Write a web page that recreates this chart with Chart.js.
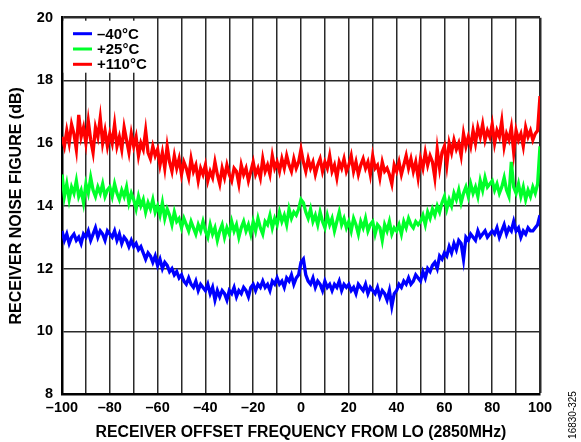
<!DOCTYPE html>
<html>
<head>
<meta charset="utf-8">
<script src="https://cdn.jsdelivr.net/npm/chart.js@4.4.0/dist/chart.umd.min.js"></script>
<style>
  html, body { margin: 0; padding: 0; background: #fff; }
</style>
</head>
<body>
<canvas id="chart" width="581" height="442"></canvas>
<script>
// offset frequency from LO, MHz (1 MHz steps from -100 to +100)
const FREQ_START = -100;
const FREQ_STEP = 1;

const seriesLabels = ['\u201340\u00b0C', '+25\u00b0C', '+110\u00b0C'];
const seriesColors = ['#0000ff', '#00ff2a', '#ff0000'];

// receiver noise figure, dB
const nfCold = [
  13.2, 12.9, 13.1, 12.8, 13.0, 13.1, 12.9, 13.0, 12.8, 13.1, // -100
  13.0, 13.2, 12.9, 13.1, 13.3, 13.0, 13.2, 13.1, 12.9, 13.2,
  13.1, 13.0, 13.2, 12.9, 13.1, 12.8, 13.0, 12.9, 12.7, 12.9, // -80
  12.7, 12.8, 12.6, 12.7, 12.5, 12.3, 12.5, 12.4, 12.2, 12.4,
  12.1, 12.3, 12.0, 12.2, 12.1, 11.9, 12.0, 11.8, 11.9, 11.7, // -60
  11.8, 11.6, 11.5, 11.7, 11.5, 11.4, 11.6, 11.3, 11.5, 11.4,
  11.3, 11.5, 11.2, 11.4, 11.0, 11.3, 11.1, 11.3, 11.2, 11.0, // -40
  11.3, 11.2, 11.4, 11.1, 11.3, 11.2, 11.4, 11.3, 11.1, 11.4,
  11.5, 11.3, 11.5, 11.4, 11.6, 11.4, 11.5, 11.3, 11.6, 11.5, // -20
  11.7, 11.5, 11.6, 11.4, 11.7, 11.6, 11.8, 11.5, 11.7, 11.8,
  12.2, 12.3, 11.8, 11.6, 11.5, 11.7, 11.4, 11.6, 11.5, 11.3, // 0
  11.6, 11.4, 11.5, 11.3, 11.5, 11.4, 11.6, 11.3, 11.5, 11.4,
  11.5, 11.3, 11.4, 11.2, 11.5, 11.4, 11.3, 11.5, 11.2, 11.4, // 20
  11.3, 11.2, 11.4, 11.1, 11.3, 11.2, 11.0, 11.3, 10.8, 11.2,
  11.3, 11.5, 11.4, 11.6, 11.5, 11.7, 11.5, 11.6, 11.8, 11.7, // 40
  11.6, 11.9, 11.7, 12.0, 11.9, 12.1, 12.2, 12.0, 12.4, 12.3,
  12.5, 12.4, 12.7, 12.5, 12.8, 12.6, 12.9, 12.8, 12.3, 13.0, // 60
  12.9, 13.1, 13.0, 12.9, 13.2, 13.0, 13.1, 13.2, 13.0, 13.1,
  13.2, 13.1, 13.3, 13.0, 13.2, 13.4, 13.1, 13.3, 13.2, 13.5, // 80
  13.2, 13.3, 13.0, 13.2, 13.1, 13.3, 13.2, 13.2, 13.3, 13.4, 13.7
];

const nfRoom = [
  15.0, 14.3, 14.7, 14.2, 14.6, 14.4, 14.8, 14.3, 14.5, 14.1, // -100
  14.7, 14.4, 14.9, 14.5, 14.3, 14.6, 14.4, 14.7, 14.3, 14.5,
  14.6, 14.3, 14.7, 14.4, 14.2, 14.5, 14.3, 14.6, 14.1, 14.4, // -80
  14.2, 13.9, 14.3, 14.0, 14.2, 13.8, 14.1, 13.9, 14.2, 13.8,
  14.0, 13.7, 14.1, 13.6, 13.9, 13.7, 13.4, 13.8, 13.5, 13.6, // -60
  13.3, 13.6, 13.4, 13.2, 13.5, 13.3, 13.1, 13.4, 13.2, 13.5,
  13.2, 13.0, 13.4, 13.1, 13.3, 12.9, 13.2, 13.4, 13.0, 13.3, // -40
  13.1, 13.5, 13.2, 13.4, 13.0, 13.3, 13.5, 13.2, 13.4, 13.1,
  13.5, 13.2, 13.6, 13.3, 13.1, 13.5, 13.4, 13.7, 13.3, 13.6, // -20
  13.4, 13.8, 13.5, 13.7, 13.4, 13.9, 13.6, 13.8, 13.7, 13.9,
  14.2, 14.1, 13.8, 13.6, 13.9, 13.5, 13.7, 13.4, 13.8, 13.5, // 0
  13.3, 13.7, 13.4, 13.6, 13.2, 13.5, 13.8, 13.4, 13.6, 13.3,
  13.5, 13.2, 13.6, 13.4, 13.1, 13.5, 13.3, 13.6, 13.2, 13.4, // 20
  13.5, 13.1, 13.4, 13.3, 12.9, 13.4, 13.2, 13.5, 13.1, 13.3,
  13.2, 13.4, 13.1, 13.5, 13.3, 13.6, 13.4, 13.3, 13.5, 13.4, // 40
  13.5, 13.7, 13.4, 13.8, 13.6, 13.9, 13.7, 14.0, 13.8, 14.1,
  14.3, 13.9, 14.2, 14.0, 14.4, 14.2, 14.5, 14.1, 14.4, 14.6, // 60
  14.3, 14.7, 14.4, 14.6, 14.3, 14.8, 14.5, 14.9, 14.6, 14.7,
  14.8, 14.5, 14.7, 14.4, 14.6, 14.9, 14.5, 14.3, 15.4, 14.6, // 80
  14.4, 14.7, 14.3, 14.6, 14.2, 14.5, 14.3, 14.6, 14.4, 14.7, 15.9
];

const nfHot = [
  16.2, 15.9, 16.4, 16.0, 16.6, 16.3, 15.8, 16.9, 16.2, 16.5, // -100
  16.0, 16.7, 16.1, 15.7, 16.5, 16.2, 16.8, 16.0, 16.4, 15.9,
  16.3, 16.0, 16.6, 15.9, 16.2, 15.8, 16.5, 16.1, 15.7, 16.3, // -80
  15.9, 16.2, 15.6, 16.0, 15.8, 16.4, 15.7, 15.5, 15.9, 15.6,
  15.8, 15.3, 15.7, 15.2, 15.9, 15.4, 15.1, 15.6, 15.2, 15.5, // -60
  15.0, 15.4, 15.2, 14.9, 15.5, 15.1, 15.3, 14.8, 15.2, 15.0,
  15.3, 14.8, 15.1, 14.9, 15.4, 15.0, 14.7, 15.2, 14.9, 15.3, // -40
  15.0, 14.8, 15.2, 15.1, 14.7, 15.3, 15.0, 15.2, 14.8, 15.1,
  15.4, 15.0, 15.2, 14.9, 15.5, 15.1, 15.3, 15.0, 15.6, 15.2, // -20
  15.4, 15.1, 15.5, 15.2, 15.6, 15.3, 15.1, 15.5, 15.2, 15.4,
  15.8, 15.4, 15.1, 15.5, 15.2, 15.4, 15.0, 15.3, 15.5, 15.1, // 0
  15.4, 15.2, 15.6, 15.1, 15.3, 14.9, 15.4, 15.2, 15.5, 15.1,
  15.3, 15.6, 15.1, 15.4, 15.0, 15.3, 15.5, 15.2, 15.4, 15.0, // 20
  15.6, 15.2, 15.3, 14.9, 15.4, 15.1, 15.2, 15.0, 14.7, 15.3,
  15.1, 15.4, 15.0, 15.3, 15.6, 15.2, 15.5, 15.1, 15.4, 14.9, // 40
  15.5, 15.2, 15.7, 15.3, 15.6, 15.4, 14.9, 15.8, 15.2, 15.7,
  15.9, 15.3, 16.0, 15.7, 16.1, 15.8, 16.0, 15.6, 16.3, 15.9, // 60
  16.2, 15.9, 16.4, 16.0, 16.5, 16.2, 16.6, 16.1, 16.4, 16.2,
  16.6, 16.0, 16.4, 16.2, 16.7, 15.9, 16.3, 16.1, 16.5, 15.7, // 80
  16.4, 16.1, 16.3, 15.9, 16.5, 16.2, 16.4, 16.1, 16.3, 16.4, 17.5
];

const xTickLabelStep = 20;
const figureId = '16830-325';

const toPoints = (vals) => vals.map((v, i) => ({ x: FREQ_START + i * FREQ_STEP, y: v }));

const FONT = "'Liberation Sans', Arial, sans-serif";

// legend: white patch (no frame) in the top-left corner of the plot
const boxLegend = {
  id: 'boxLegend',
  afterDatasetsDraw(chart) {
    const { ctx, chartArea } = chart;
    const x0 = chartArea.left;
    const y0 = chartArea.top;
    ctx.save();
    ctx.fillStyle = '#fff';
    ctx.fillRect(x0 + 1.5, y0 + 3, 93.5, 52);
    ctx.font = `bold 15px ${FONT}`;
    ctx.textBaseline = 'middle';
    chart.data.datasets.forEach((ds, i) => {
      const yy = y0 + 16 + i * 15.3;
      ctx.strokeStyle = ds.borderColor;
      ctx.lineWidth = 3;
      ctx.beginPath();
      ctx.moveTo(x0 + 11, yy);
      ctx.lineTo(x0 + 30, yy);
      ctx.stroke();
      ctx.fillStyle = '#000';
      ctx.fillText(ds.label, x0 + 35, yy + 1);
    });
    ctx.restore();
  },
};

const sideNote = {
  id: 'sideNote',
  afterDraw(chart) {
    const { ctx } = chart;
    ctx.save();
    ctx.translate(573.5, 415);
    ctx.rotate(-Math.PI / 2);
    ctx.font = `10px ${FONT}`;
    ctx.fillStyle = '#000';
    ctx.textAlign = 'center';
    ctx.textBaseline = 'middle';
    ctx.fillText(figureId, 0, 0);
    ctx.restore();
  },
};

const gridWidth = (edgeVal) => (c) => (c.tick && c.tick.value === edgeVal ? 2.5 : 1.5);

new Chart(document.getElementById('chart'), {
  type: 'line',
  data: {
    datasets: [nfCold, nfRoom, nfHot].map((vals, i) => ({
      label: seriesLabels[i],
      data: toPoints(vals),
      borderColor: seriesColors[i],
      backgroundColor: seriesColors[i],
      borderWidth: 3.3,
      pointRadius: 0,
      tension: 0,
    })),
  },
  options: {
    responsive: false,
    animation: false,
    layout: { padding: { left: 0, top: 13, right: 41, bottom: 0 } },
    plugins: {
      legend: { display: false },
      tooltip: { enabled: false },
    },
    scales: {
      x: {
        type: 'linear',
        min: -100,
        max: 100,
        afterFit: (s) => { s.height = 48; },
        ticks: {
          stepSize: 10,
          padding: 5,
          color: '#000',
          font: { family: FONT, size: 14.5, weight: 'bold' },
          maxRotation: 0,
          autoSkip: false,
          callback: (v) => (v % xTickLabelStep === 0 ? String(v).replace('-', '\u2013') : ''),
        },
        grid: { color: '#2a2a2a', lineWidth: gridWidth(100), drawTicks: false },
        border: { color: '#000', width: 2.5 },
        title: {
          display: true,
          text: 'RECEIVER OFFSET FREQUENCY FROM LO (2850MHz)',
          color: '#000',
          font: { family: FONT, size: 15.8, weight: 'bold' },
          padding: { top: 0, bottom: 0 },
        },
      },
      y: {
        min: 8,
        max: 20,
        afterFit: (s) => { s.width = 62; },
        ticks: {
          stepSize: 2,
          padding: 9,
          color: '#000',
          font: { family: FONT, size: 14.5, weight: 'bold' },
        },
        grid: { color: '#2a2a2a', lineWidth: gridWidth(20), drawTicks: false },
        border: { color: '#000', width: 2.5 },
        title: {
          display: true,
          text: 'RECEIVER NOISE FIGURE (dB)',
          color: '#000',
          font: { family: FONT, size: 16, weight: 'bold' },
          padding: { top: 7, bottom: 0 },
        },
      },
    },
  },
  plugins: [boxLegend, sideNote],
});
</script>
</body>
</html>
